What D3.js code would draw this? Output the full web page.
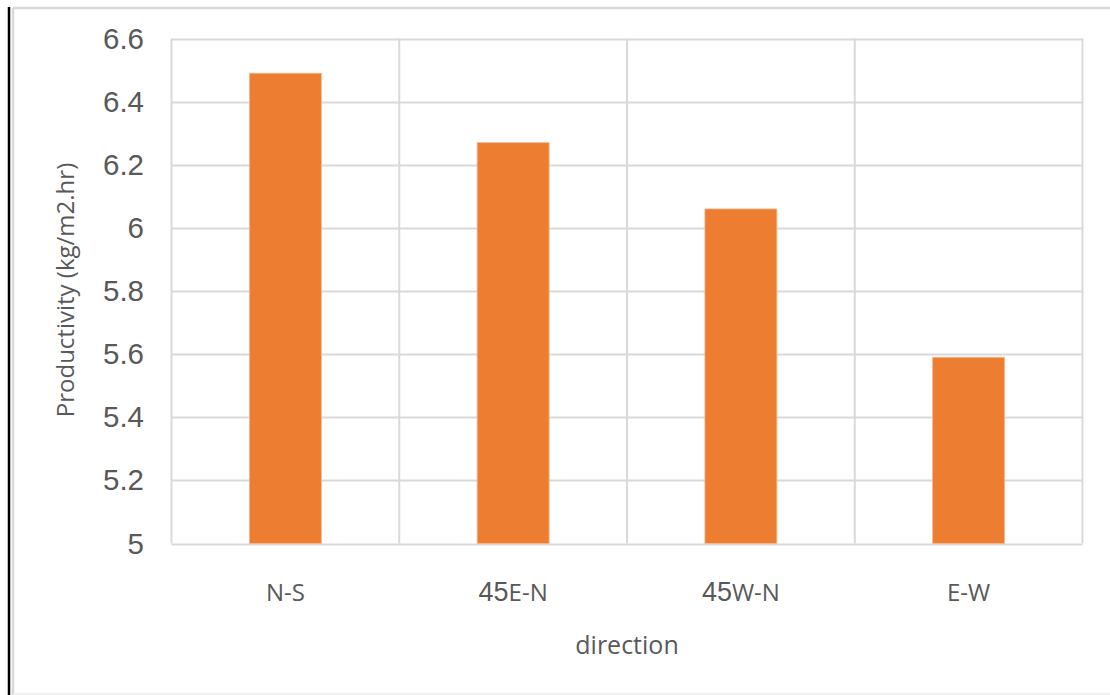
<!DOCTYPE html>
<html><head><meta charset="utf-8">
<script src="https://cdn.jsdelivr.net/npm/d3@7"></script>
<style>body{margin:0;background:#fff;}svg{display:block;}</style>
</head><body>
<svg id="c" width="1110" height="695"></svg>
<script>
const categories = ["N-S", "45E-N", "45W-N", "E-W"];
const values = [6.49, 6.27, 6.06, 5.59];
const yTicks = [5, 5.2, 5.4, 5.6, 5.8, 6, 6.2, 6.4, 6.6];
const yTickLabels = ["5", "5.2", "5.4", "5.6", "5.8", "6", "6.2", "6.4", "6.6"];
const xTitle = "direction";
const yTitle = "Productivity (kg/m2.hr)";

const svg = d3.select("#c");
const m = {left: 171.5, right: 1082.5, top: 38.5, bottom: 543.5};

// outer frame
svg.append("line").attr("x1", 13).attr("x2", 1110).attr("y1", 8).attr("y2", 8).attr("stroke", "#d9d9d9").attr("stroke-width", 2.5);
svg.append("line").attr("x1", 13).attr("x2", 13).attr("y1", 8).attr("y2", 695).attr("stroke", "#d9d9d9").attr("stroke-width", 2.5);
svg.append("line").attr("x1", 13).attr("x2", 1110).attr("y1", 694).attr("y2", 694).attr("stroke", "#ececec").attr("stroke-width", 1.5);
svg.append("line").attr("x1", 9).attr("x2", 9).attr("y1", 7).attr("y2", 695).attr("stroke", "#000").attr("stroke-width", 2.5);

const x = d3.scaleBand().domain(categories).range([m.left, m.right]).paddingInner(0).paddingOuter(0);
const y = d3.scaleLinear().domain([5, 6.6]).range([m.bottom, m.top]);

// horizontal grid
svg.append("g").selectAll("line").data(yTicks).join("line")
  .attr("x1", m.left).attr("x2", m.right)
  .attr("y1", d => Math.round(y(d)) + 0.5).attr("y2", d => Math.round(y(d)) + 0.5)
  .attr("stroke", "#d9d9d9").attr("stroke-width", 2);
// vertical grid
const vx = categories.map(c => x(c)).concat([x(categories[categories.length-1]) + x.bandwidth()]);
svg.append("g").selectAll("line").data(vx).join("line")
  .attr("x1", d => d).attr("x2", d => d)
  .attr("y1", m.top).attr("y2", m.bottom)
  .attr("stroke", "#d9d9d9").attr("stroke-width", 2);

// bars
const bw = x.bandwidth() * 0.316;
svg.append("g").selectAll("rect").data(values).join("rect")
  .attr("x", (d, i) => x(categories[i]) + x.bandwidth() / 2 - bw / 2)
  .attr("width", bw)
  .attr("y", d => y(d))
  .attr("height", d => y(5) - y(d))
  .attr("fill", "#ED7D31")
  .attr("stroke", "#f5b88f").attr("stroke-width", 0.8);

// y tick labels
svg.append("g").selectAll("text").data(yTicks).join("text")
  .attr("x", 144).attr("y", d => y(d) + 10)
  .attr("text-anchor", "end")
  .attr("font-family", "Liberation Sans, Arial, sans-serif")
  .attr("font-size", 29.5).attr("fill", "#595959")
  .text((d, i) => yTickLabels[i]);

// x labels: leading digits in Arial-like font, rest in Calibri-like font
const xl = svg.append("g").selectAll("text").data(categories).join("text")
  .attr("x", d => x(d) + x.bandwidth() / 2).attr("y", 601)
  .attr("text-anchor", "middle")
  .attr("font-family", "Open Sans, sans-serif")
  .attr("font-size", 24).attr("fill", "#595959");
xl.each(function(d) {
  const mm = d.match(/^(\d*)(.*)$/);
  const t = d3.select(this);
  if (mm[1]) t.append("tspan").attr("font-family", "Liberation Sans, Arial, sans-serif").attr("font-size", 27).text(mm[1]);
  t.append("tspan").text(mm[2]);
});

// axis titles
svg.append("text").attr("x", 627).attr("y", 654)
  .attr("text-anchor", "middle").attr("font-family", "Open Sans, sans-serif")
  .attr("font-size", 25).attr("fill", "#595959").text(xTitle);
svg.append("text").attr("transform", `translate(74,290) rotate(-90)`)
  .attr("text-anchor", "middle").attr("font-family", "Open Sans, sans-serif")
  .attr("font-size", 24).attr("fill", "#595959").text(yTitle);
</script>
</body></html>
